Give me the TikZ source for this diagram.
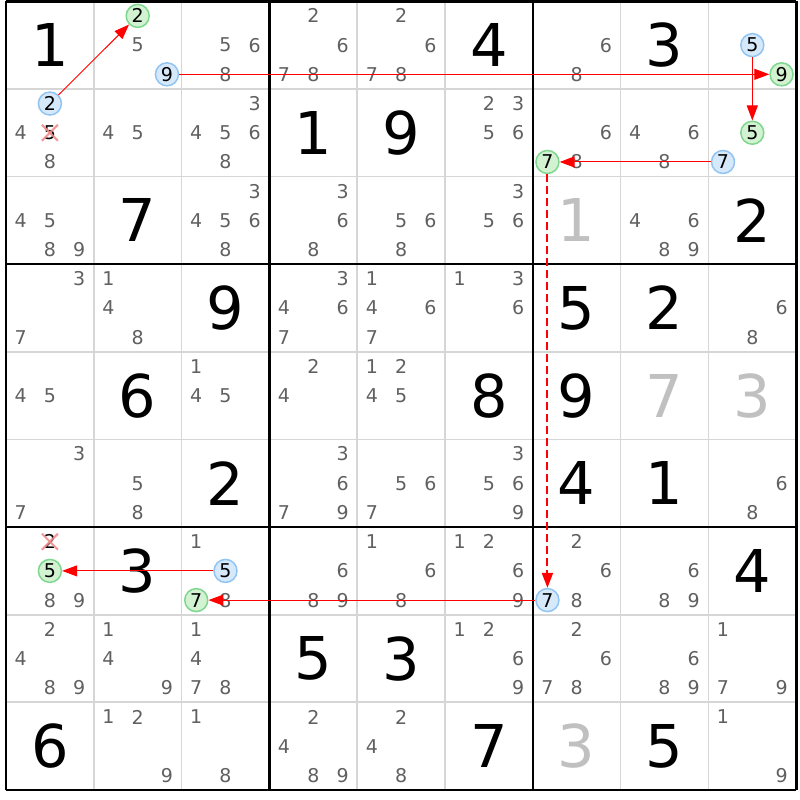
\documentclass[tikz,border=0pt]{standalone}
\usepackage{fontspec}
\setmainfont{DejaVu Sans}
\usetikzlibrary{arrows.meta}
\definecolor{candgray}{HTML}{606060}
\definecolor{givgray}{HTML}{C0C0C0}
\definecolor{thingrid}{HTML}{D6D6D6}
\definecolor{bluefill}{HTML}{D6E9FB}
\definecolor{blueline}{HTML}{92C4F2}
\definecolor{greenfill}{HTML}{D2F2D2}
\definecolor{greenline}{HTML}{7FD68F}
\definecolor{xred}{HTML}{F08C8C}
\newcommand\sdkpos[3]{%
  \pgfmathsetmacro\px{6+(#2-1)*87.8+(mod(#3-1,3)+0.5)*87.8/3}%
  \pgfmathsetmacro\py{1.3+(#1-1)*87.63+(floor((#3-1)/3)+0.5)*87.63/3}}
\newcommand\sdkcand[3]{\foreach \dd in {#3}{\sdkpos{#1}{#2}{\dd}\node[candtxt] (k#1#2\dd) at (\px,\py) {\dd};}}
\newcommand\sdkgiven[4]{%
  \pgfmathsetmacro\px{6+(#2-0.5)*87.8}%
  \pgfmathsetmacro\py{1.3+(#1-0.5)*87.63}%
  \node[giventxt,text=#4] (g#1#2) at (\px,\py) {#3};}
\newcommand\sdkcirc[5]{% style r c d name
  \sdkpos{#2}{#3}{#4}\node[#1] (#5) at (\px,\py) {#4};}
\newcommand\sdkcross[3]{%
  \sdkpos{#1}{#2}{#3}\node[candtxt,text=black] (x#1#2#3) at (\px,\py) {#3};
  \draw[xmark] ([shift={(-8,-8)}]x#1#2#3.center) -- ([shift={(8,8)}]x#1#2#3.center);
  \draw[xmark] ([shift={(-8,8)}]x#1#2#3.center) -- ([shift={(8,-8)}]x#1#2#3.center);}
\tikzset{
  candtxt/.style={inner sep=0pt, text=candgray, font=\fontsize{19}{22}\selectfont},
  giventxt/.style={inner sep=0pt, font=\fontsize{59}{66}\selectfont},
  bcirc/.style={circle, draw=blueline, fill=bluefill, line width=1.5pt, inner sep=0pt, minimum size=23pt, text=black, font=\fontsize{19}{22}\selectfont},
  gcirc/.style={circle, draw=greenline, fill=greenfill, line width=1.5pt, inner sep=0pt, minimum size=23pt, text=black, font=\fontsize{19}{22}\selectfont},
  xmark/.style={draw=xred, line width=2pt, opacity=0.9},
  arr/.style={draw=red, line width=1pt, -{Triangle[length=15pt,width=11pt]}},
  darr/.style={draw=red, line width=2pt, dash pattern=on 8pt off 4pt, -{Triangle[length=15pt,width=11pt]}},
}
\begin{document}
\begin{tikzpicture}[x=1pt,y=-1pt]
\useasboundingbox (0,0) rectangle (800,800);
\fill[white] (0,0) rectangle (800,800);
% thin grid
\foreach \i in {1,2,4,5,7,8}{
  \draw[thingrid, line width=1.7pt] ({6+\i*87.8},1.3) -- ({6+\i*87.8},790);
  \draw[thingrid, line width=1.7pt] (6,{1.3+\i*87.63}) -- (796,{1.3+\i*87.63});
}
\foreach \i in {0,3,6,9}{
  \draw[black, line width=2.6pt] ({6+\i*87.8},1.3) -- ({6+\i*87.8},790);
  \draw[black, line width=2.6pt] (6,{1.3+\i*87.63}) -- (796,{1.3+\i*87.63});
}
% givens
\sdkgiven{1}{1}{1}{black}\sdkgiven{1}{6}{4}{black}\sdkgiven{1}{8}{3}{black}
\sdkgiven{2}{4}{1}{black}\sdkgiven{2}{5}{9}{black}
\sdkgiven{3}{2}{7}{black}\sdkgiven{3}{7}{1}{givgray}\sdkgiven{3}{9}{2}{black}
\sdkgiven{4}{3}{9}{black}\sdkgiven{4}{7}{5}{black}\sdkgiven{4}{8}{2}{black}
\sdkgiven{5}{2}{6}{black}\sdkgiven{5}{6}{8}{black}\sdkgiven{5}{7}{9}{black}\sdkgiven{5}{8}{7}{givgray}\sdkgiven{5}{9}{3}{givgray}
\sdkgiven{6}{3}{2}{black}\sdkgiven{6}{7}{4}{black}\sdkgiven{6}{8}{1}{black}
\sdkgiven{7}{2}{3}{black}\sdkgiven{7}{9}{4}{black}
\sdkgiven{8}{4}{5}{black}\sdkgiven{8}{5}{3}{black}
\sdkgiven{9}{1}{6}{black}\sdkgiven{9}{6}{7}{black}\sdkgiven{9}{7}{3}{givgray}\sdkgiven{9}{8}{5}{black}
% candidates
\sdkcand{1}{2}{5}\sdkcand{1}{3}{5,6,8}\sdkcand{1}{4}{2,6,7,8}\sdkcand{1}{5}{2,6,7,8}\sdkcand{1}{7}{6,8}
\sdkcand{2}{1}{4,8}\sdkcand{2}{2}{4,5}\sdkcand{2}{3}{3,4,5,6,8}\sdkcand{2}{6}{2,3,5,6}\sdkcand{2}{7}{6,8}\sdkcand{2}{8}{4,6,8}
\sdkcand{3}{1}{4,5,8,9}\sdkcand{3}{3}{3,4,5,6,8}\sdkcand{3}{4}{3,6,8}\sdkcand{3}{5}{5,6,8}\sdkcand{3}{6}{3,5,6}\sdkcand{3}{8}{4,6,8,9}
\sdkcand{4}{1}{3,7}\sdkcand{4}{2}{1,4,8}\sdkcand{4}{4}{3,4,6,7}\sdkcand{4}{5}{1,4,6,7}\sdkcand{4}{6}{1,3,6}\sdkcand{4}{9}{6,8}
\sdkcand{5}{1}{4,5}\sdkcand{5}{3}{1,4,5}\sdkcand{5}{4}{2,4}\sdkcand{5}{5}{1,2,4,5}
\sdkcand{6}{1}{3,7}\sdkcand{6}{2}{5,8}\sdkcand{6}{4}{3,6,7,9}\sdkcand{6}{5}{5,6,7}\sdkcand{6}{6}{3,5,6,9}\sdkcand{6}{9}{6,8}
\sdkcand{7}{1}{8,9}\sdkcand{7}{3}{1,8}\sdkcand{7}{4}{6,8,9}\sdkcand{7}{5}{1,6,8}\sdkcand{7}{6}{1,2,6,9}\sdkcand{7}{7}{2,6,8}\sdkcand{7}{8}{6,8,9}
\sdkcand{8}{1}{2,4,8,9}\sdkcand{8}{2}{1,4,9}\sdkcand{8}{3}{1,4,7,8}\sdkcand{8}{6}{1,2,6,9}\sdkcand{8}{7}{2,6,7,8}\sdkcand{8}{8}{6,8,9}\sdkcand{8}{9}{1,7,9}
\sdkcand{9}{2}{1,2,9}\sdkcand{9}{3}{1,8}\sdkcand{9}{4}{2,4,8,9}\sdkcand{9}{5}{2,4,8}\sdkcand{9}{9}{1,9}
% crossed candidates
\sdkcross{2}{1}{5}
\sdkcross{7}{1}{2}
% circled candidates
\sdkcirc{gcirc}{1}{2}{2}{gA}
\sdkcirc{bcirc}{1}{2}{9}{bB}
\sdkcirc{bcirc}{1}{9}{5}{bC}
\sdkcirc{gcirc}{1}{9}{9}{gB}
\sdkcirc{bcirc}{2}{1}{2}{bA}
\sdkcirc{gcirc}{2}{9}{5}{gC}
\sdkcirc{bcirc}{2}{9}{7}{bD}
\sdkcirc{gcirc}{2}{7}{7}{gD}
\sdkcirc{bcirc}{7}{7}{7}{bE}
\sdkcirc{gcirc}{7}{3}{7}{gE}
\sdkcirc{bcirc}{7}{3}{5}{bF}
\sdkcirc{gcirc}{7}{1}{5}{gF}
% arrows
\draw[arr] (bA) -- (gA);
\draw[arr] (bB) -- (gB);
\draw[arr] (bC) -- (gC);
\draw[arr] (bD) -- (gD);
\draw[darr] (gD) -- (bE);
\draw[arr] (bE) -- (gE);
\draw[arr] (bF) -- (gF);
\end{tikzpicture}
\end{document}
